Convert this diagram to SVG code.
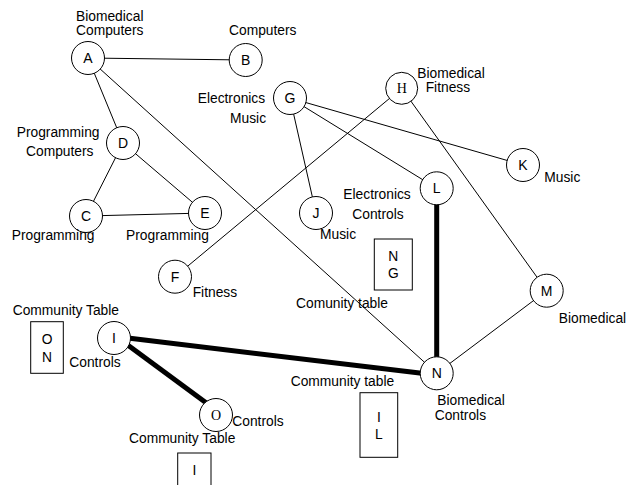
<svg xmlns="http://www.w3.org/2000/svg" width="627" height="485" viewBox="0 0 627 485">
  <style>
    .bg { fill: #ffffff; }
    .edge { stroke: #000000; stroke-width: 1; fill: none; }
    .heavy { stroke: #000000; stroke-width: 5; fill: none; }
    .node circle { fill: #ffffff; stroke: #000000; stroke-width: 1; }
    .id { font-family: "Liberation Sans", Arial, sans-serif; font-size: 14px; text-anchor: middle; fill: #000000; }
    .id-serif { font-family: "Liberation Serif", "Times New Roman", serif; font-size: 14px; text-anchor: middle; fill: #000000; }
    .lbl { font-family: "Liberation Sans", Arial, sans-serif; font-size: 13.8px; fill: #000000; }
    .box rect { fill: #ffffff; stroke: #000000; stroke-width: 1; }
    .box text { font-family: "Liberation Sans", Arial, sans-serif; font-size: 13.8px; text-anchor: middle; fill: #000000; }
  </style>

  <rect class="bg" x="0" y="0" width="627" height="485"/>

  <!-- connectors -->
  <g id="connectors">
    <line class="edge" x1="88" y1="58" x2="245.7" y2="60"/>
    <line class="edge" x1="88" y1="58" x2="123" y2="143"/>
    <line class="edge" x1="88" y1="58" x2="436.7" y2="373.3"/>
    <line class="edge" x1="123" y1="143" x2="86" y2="216"/>
    <line class="edge" x1="123" y1="143" x2="205" y2="213"/>
    <line class="edge" x1="86" y1="216" x2="205" y2="213"/>
    <line class="edge" x1="290" y1="98" x2="523" y2="165"/>
    <line class="edge" x1="290" y1="98" x2="436.7" y2="188.3"/>
    <line class="edge" x1="290" y1="98" x2="316" y2="213"/>
    <line class="edge" x1="401.7" y1="88.3" x2="175" y2="276.7"/>
    <line class="edge" x1="401.7" y1="88.3" x2="546.7" y2="290.7"/>
    <line class="edge" x1="546.7" y1="290.7" x2="436.7" y2="373.3"/>
    <line class="heavy" x1="436.7" y1="204" x2="436.7" y2="357"/>
    <line class="heavy" x1="130" y1="338.3" x2="421.7" y2="373.3"/>
    <line class="heavy" x1="127.7" y1="345" x2="206.7" y2="403.3"/>
  </g>

  <!-- nodes -->
  <g id="node-A" class="node">
    <circle cx="88" cy="58" r="16.5"/>
    <text class="id" x="88" y="63">A</text>
    <text class="lbl" x="76" y="21">Biomedical</text>
    <text class="lbl" x="76" y="34.5">Computers</text>
  </g>
  <g id="node-B" class="node">
    <circle cx="245.7" cy="60" r="16.5"/>
    <text class="id" x="245.7" y="65">B</text>
    <text class="lbl" x="229" y="34.5">Computers</text>
  </g>
  <g id="node-D" class="node">
    <circle cx="123" cy="143" r="16.5"/>
    <text class="id" x="123" y="148">D</text>
    <text class="lbl" x="16.7" y="136.7">Programming</text>
    <text class="lbl" x="26" y="155.7">Computers</text>
  </g>
  <g id="node-C" class="node">
    <circle cx="86" cy="216" r="16.5"/>
    <text class="id" x="86" y="221">C</text>
    <text class="lbl" x="11.7" y="240">Programming</text>
  </g>
  <g id="node-E" class="node">
    <circle cx="205" cy="213" r="16.5"/>
    <text class="id" x="205" y="218">E</text>
    <text class="lbl" x="126" y="240">Programming</text>
  </g>
  <g id="node-G" class="node">
    <circle cx="290" cy="98" r="16.5"/>
    <text class="id" x="290" y="103">G</text>
    <text class="lbl" x="197.7" y="103.3">Electronics</text>
    <text class="lbl" x="230" y="122.7">Music</text>
  </g>
  <g id="node-H" class="node">
    <circle cx="401.7" cy="88.3" r="16"/>
    <text class="id-serif" x="401.7" y="93.3">H</text>
    <text class="lbl" x="417.3" y="78.3">Biomedical</text>
    <text class="lbl" x="425.7" y="92.3">Fitness</text>
  </g>
  <g id="node-K" class="node">
    <circle cx="523" cy="165" r="16.5"/>
    <text class="id" x="523" y="170">K</text>
    <text class="lbl" x="544.3" y="181.7">Music</text>
  </g>
  <g id="node-L" class="node">
    <circle cx="436.7" cy="188.3" r="16.5"/>
    <text class="id" x="436.7" y="193.3">L</text>
    <text class="lbl" x="343.3" y="199.3">Electronics</text>
    <text class="lbl" x="352.3" y="219.3">Controls</text>
  </g>
  <g id="node-J" class="node">
    <circle cx="316" cy="213" r="16.5"/>
    <text class="id" x="316" y="218">J</text>
    <text class="lbl" x="320" y="239.3">Music</text>
  </g>
  <g id="node-F" class="node">
    <circle cx="175" cy="276.7" r="16.5"/>
    <text class="id" x="175" y="281.7">F</text>
    <text class="lbl" x="192.7" y="297.3">Fitness</text>
  </g>
  <g id="node-M" class="node">
    <circle cx="546.7" cy="290.7" r="16.5"/>
    <text class="id" x="546.7" y="295.7">M</text>
    <text class="lbl" x="558.7" y="322.7">Biomedical</text>
  </g>
  <g id="node-N" class="node">
    <circle cx="436.7" cy="373.3" r="16.5"/>
    <text class="id" x="436.7" y="378.3">N</text>
    <text class="lbl" x="437.3" y="405">Biomedical</text>
    <text class="lbl" x="434.7" y="419.5">Controls</text>
    <text class="lbl" x="296" y="308.3">Comunity table</text>
    <text class="lbl" x="290.7" y="385.7">Community table</text>
  </g>
  <g id="node-I" class="node">
    <circle cx="114" cy="338" r="16.5"/>
    <text class="id" x="114" y="343">I</text>
    <text class="lbl" x="12.7" y="315">Community Table</text>
    <text class="lbl" x="69.3" y="367.3">Controls</text>
  </g>
  <g id="node-O" class="node">
    <circle cx="216" cy="415" r="16.5"/>
    <text class="id-serif" x="216" y="420">O</text>
    <text class="lbl" x="232.3" y="425.7">Controls</text>
    <text class="lbl" x="129" y="443.3">Community Table</text>
  </g>

  <!-- tables -->
  <g id="table-NG" class="box">
    <rect x="374.3" y="239" width="38" height="51"/>
    <text x="393.3" y="261">N</text>
    <text x="393.3" y="278">G</text>
  </g>
  <g id="table-ON" class="box">
    <rect x="30.7" y="321.7" width="32.6" height="51.6"/>
    <text x="47" y="344">O</text>
    <text x="47" y="361.7">N</text>
  </g>
  <g id="table-IL" class="box">
    <rect x="360" y="392.7" width="37.7" height="64.6"/>
    <text x="378.8" y="421.7">I</text>
    <text x="378.8" y="439">L</text>
  </g>
  <g id="table-I" class="box">
    <rect x="177.7" y="453" width="33.3" height="40"/>
    <text x="194.3" y="475">I</text>
  </g>
</svg>
